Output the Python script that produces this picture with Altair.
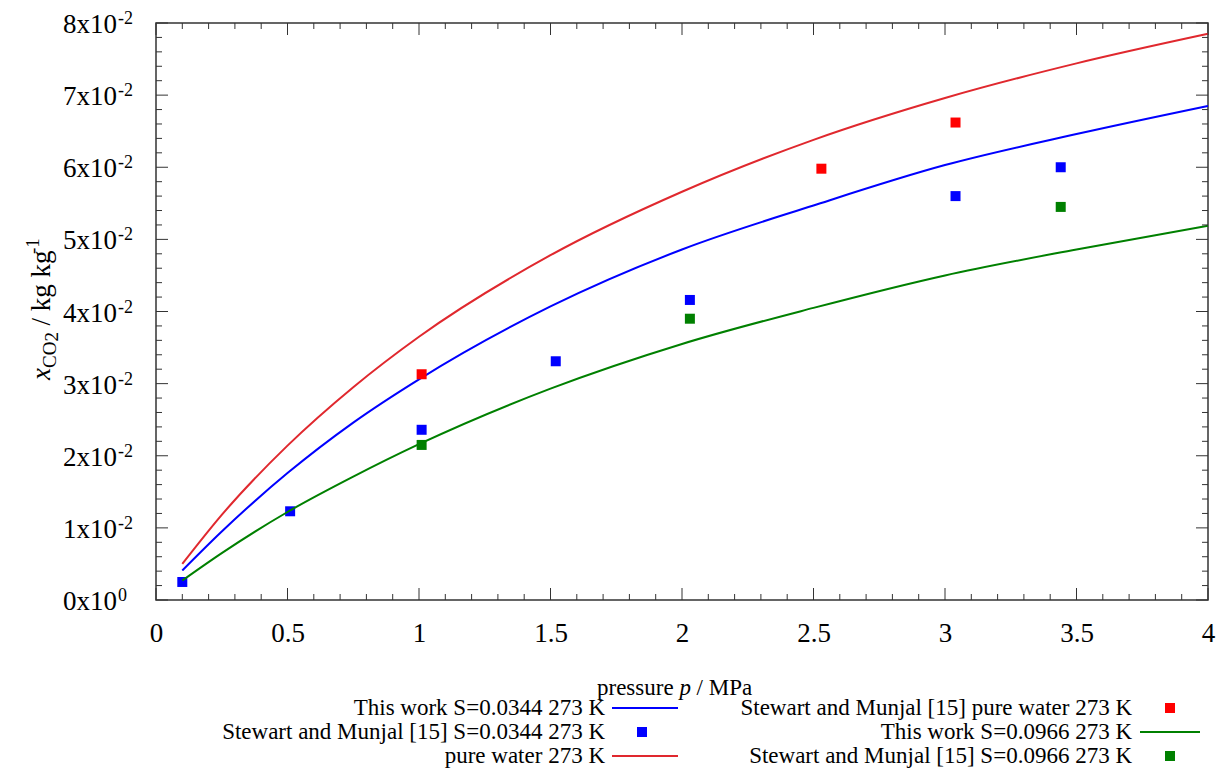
import altair as alt
import pandas as pd

# ---------------- data ----------------
# model curves, x_CO2 in units of 1e-2 kg/kg
p_curve = [0.1, 0.25, 0.5, 0.75, 1.0, 1.5, 2.0, 2.5, 3.0, 3.5, 4.0]
x_pure = [0.50, 1.18, 2.14, 2.95, 3.65, 4.78, 5.66, 6.38, 6.96, 7.44, 7.85]
x_s0344 = [0.41, 0.95, 1.76, 2.46, 3.06, 4.07, 4.86, 5.47, 6.03, 6.46, 6.85]
x_s0966 = [0.27, 0.65, 1.22, 1.71, 2.16, 2.93, 3.55, 4.05, 4.50, 4.86, 5.19]

# experimental points (Stewart and Munjal [15])
p_exp_pure = [1.01, 2.53, 3.04]
x_exp_pure = [3.13, 5.98, 6.62]
p_exp_s0344 = [0.10, 0.51, 1.01, 1.52, 2.03, 3.04, 3.44]
x_exp_s0344 = [0.25, 1.23, 2.36, 3.31, 4.16, 5.60, 6.00]
p_exp_s0966 = [1.01, 2.03, 3.44]
x_exp_s0966 = [2.15, 3.90, 5.45]

series_names = [
    "This work S=0.0344 273 K",
    "Stewart and Munjal [15] S=0.0344 273 K",
    "pure water 273 K",
    "Stewart and Munjal [15] pure water 273 K",
    "This work S=0.0966 273 K",
    "Stewart and Munjal [15] S=0.0966 273 K",
]

x_major = [0, 0.5, 1, 1.5, 2, 2.5, 3, 3.5, 4]
x_minor = [0.1, 0.2, 0.3, 0.4, 0.6, 0.7, 0.8, 0.9, 1.1, 1.2, 1.3, 1.4,
           1.6, 1.7, 1.8, 1.9, 2.1, 2.2, 2.3, 2.4, 2.6, 2.7, 2.8, 2.9,
           3.1, 3.2, 3.3, 3.4, 3.6, 3.7, 3.8, 3.9]
y_major = [0, 0.01, 0.02, 0.03, 0.04, 0.05, 0.06, 0.07, 0.08]
y_minor = [v / 1000 for v in [2, 4, 6, 8, 12, 14, 16, 18, 22, 24, 26, 28,
                              32, 34, 36, 38, 42, 44, 46, 48, 52, 54, 56, 58,
                              62, 64, 66, 68, 72, 74, 76, 78]]
y_mant = ["0x10", "1x10", "2x10", "3x10", "4x10", "5x10", "6x10", "7x10", "8x10"]
y_expo = ["0", "-2", "-2", "-2", "-2", "-2", "-2", "-2", "-2"]

# ---------------- styling ----------------
FONT = "Liberation Serif"
W, H = 1052, 577
BLUE = "#0000ff"
RED_LINE = "#e0282e"
RED_PT = "#ff0000"
GREEN = "#008000"
FRAME = "#333333"

xs = alt.Scale(domain=[0, 4], nice=False, zero=False)
ys = alt.Scale(domain=[0, 0.08], nice=False, zero=False)
x_axis = alt.Axis(values=x_major, format="~g", ticks=False, domain=False, grid=False,
                  labelFont=FONT, labelFontSize=27, labelColor="black",
                  labelPadding=20, labelFlush=False, title=None)


def curve_df(p, x):
    return pd.DataFrame({"p": p, "x": [v * 1e-2 for v in x]})


def line_layer(p, x, color):
    return alt.Chart(curve_df(p, x)).mark_line(
        color=color, strokeWidth=2, interpolate="monotone"
    ).encode(
        x=alt.X("p:Q", scale=xs, axis=x_axis),
        y=alt.Y("x:Q", scale=ys, axis=None),
    )


def point_layer(p, x, color):
    return alt.Chart(curve_df(p, x)).mark_square(
        color=color, size=100, opacity=1, filled=True
    ).encode(
        x=alt.X("p:Q", scale=xs, axis=x_axis),
        y=alt.Y("x:Q", scale=ys, axis=None),
    )


layers = [
    line_layer(p_curve, x_s0344, BLUE),
    point_layer(p_exp_s0344, x_exp_s0344, BLUE),
    line_layer(p_curve, x_pure, RED_LINE),
    point_layer(p_exp_pure, x_exp_pure, RED_PT),
    line_layer(p_curve, x_s0966, GREEN),
    point_layer(p_exp_s0966, x_exp_s0966, GREEN),
]

# ---------------- inward ticks on all four sides ----------------
def xticks(vals, length):
    df = pd.DataFrame({"p": vals})
    out = []
    for y0, y1 in [(H, H - length), (0, length)]:
        out.append(alt.Chart(df).mark_rule(color=FRAME, strokeWidth=1).encode(
            x=alt.X("p:Q", scale=xs, axis=x_axis),
            y=alt.value(y0), y2=alt.value(y1)))
    return out


def yticks(vals, length):
    df = pd.DataFrame({"v": vals})
    out = []
    for x0, x1 in [(0, length), (W, W - length)]:
        out.append(alt.Chart(df).mark_rule(color=FRAME, strokeWidth=1).encode(
            y=alt.Y("v:Q", scale=ys, axis=None),
            x=alt.value(x0), x2=alt.value(x1)))
    return out


layers += xticks(x_major, 12) + xticks(x_minor, 6) + yticks(y_major, 12) + yticks(y_minor, 6)

# ---------------- y tick labels with superscript exponent ----------------
ylab = pd.DataFrame({"v": y_major, "mant": y_mant, "expo": y_expo})
layers.append(alt.Chart(ylab).mark_text(
    font=FONT, fontSize=27, align="right", baseline="middle", color="black", dy=2
).encode(y=alt.Y("v:Q", scale=ys, axis=None), x=alt.value(-39), text="mant:N"))
layers.append(alt.Chart(ylab).mark_text(
    font=FONT, fontSize=18, align="left", baseline="middle", color="black", dy=-4
).encode(y=alt.Y("v:Q", scale=ys, axis=None), x=alt.value(-38), text="expo:N"))


# ---------------- text helper ----------------
def text_piece(t, x, y, size, align="left", style="normal", angle=0, baseline="middle"):
    return alt.Chart(pd.DataFrame({"t": [t]})).mark_text(
        font=FONT, fontSize=size, align=align, baseline=baseline, fontStyle=style,
        angle=angle, color="black"
    ).encode(text="t:N", x=alt.value(x), y=alt.value(y))


# y axis title: x_CO2 / kg kg^-1 (rotated, reading upward)
yt0 = 357
layers += [
    text_piece("x", -106, yt0, 27, style="italic", angle=270, baseline="alphabetic"),
    text_piece("CO", -100, yt0 - 12, 19, angle=270, baseline="alphabetic"),
    text_piece("2", -98, yt0 - 38.4, 19, angle=270, baseline="alphabetic"),
    text_piece("/ kg kg", -106, yt0 - 54.6, 27, angle=270, baseline="alphabetic"),
    text_piece("-1", -117, yt0 - 126, 19, angle=270, baseline="alphabetic"),
]

# x axis title: pressure p / MPa
xt0, xty = 441, 665
layers += [
    text_piece("pressure", xt0, xty, 23),
    text_piece("p", xt0 + 82.4, xty, 23, style="italic"),
    text_piece("/ MPa", xt0 + 99.6, xty, 23),
]

# ---------------- legend (gnuplot style: label, then sample) ----------------
row_y = [685, 709, 733]
col_text_x = [449, 976]
col_line = [(456, 522), (984, 1044)]
col_pt = [486, 1014]
styles = [("line", BLUE), ("point", BLUE), ("line", RED_LINE),
          ("point", RED_PT), ("line", GREEN), ("point", GREEN)]
one = pd.DataFrame({"k": [0]})
for i, (name, (kind, color)) in enumerate(zip(series_names, styles)):
    col, row = i // 3, i % 3
    y = row_y[row]
    layers.append(text_piece(name, col_text_x[col], y, 23, align="right"))
    if kind == "line":
        layers.append(alt.Chart(one).mark_rule(color=color, strokeWidth=2).encode(
            x=alt.value(col_line[col][0]), x2=alt.value(col_line[col][1]), y=alt.value(y)))
    else:
        layers.append(alt.Chart(one).mark_square(color=color, size=100, opacity=1, filled=True).encode(
            x=alt.value(col_pt[col]), y=alt.value(y)))

chart = alt.layer(*layers).properties(
    width=W, height=H,
    padding={"left": 148, "top": 15, "right": 12, "bottom": 168},
    autosize=alt.AutoSizeParams(type="none"),
    background="white",
).configure_view(stroke=FRAME, strokeWidth=1.5)

chart.save("out.html", embed_options={"renderer": "svg", "actions": False})
